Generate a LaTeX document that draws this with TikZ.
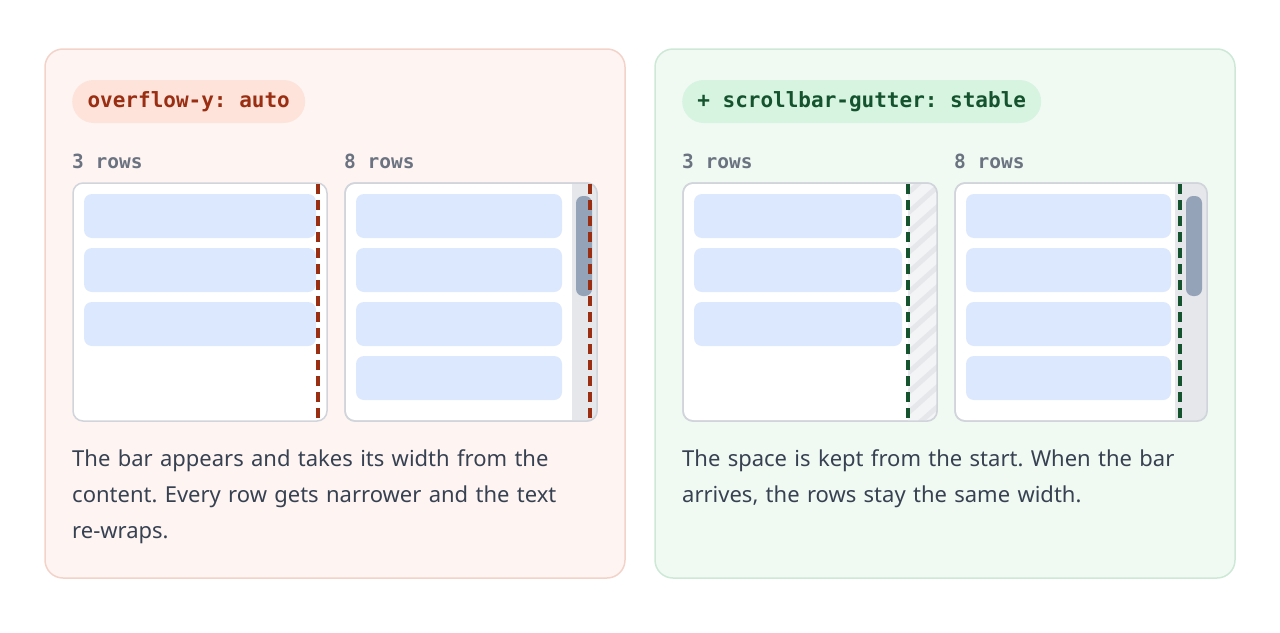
\documentclass[tikz,border=0pt]{standalone}
\usepackage{fontspec}
\setmainfont{Noto Sans}
\setmonofont{DejaVu Sans Mono}
\definecolor{redfill}{HTML}{FEF5F3}
\definecolor{redline}{HTML}{F3D3C9}
\definecolor{redbadge}{HTML}{FDE3DA}
\definecolor{redtext}{HTML}{9A2E12}
\definecolor{grnfill}{HTML}{F0FAF3}
\definecolor{grnline}{HTML}{CDE9D6}
\definecolor{grnbadge}{HTML}{D6F4E0}
\definecolor{grntext}{HTML}{14532D}
\definecolor{rowfill}{HTML}{DBE8FD}
\definecolor{boxline}{HTML}{D1D5DB}
\definecolor{track}{HTML}{E5E7EB}
\definecolor{thumb}{HTML}{94A3B8}
\definecolor{body}{HTML}{374151}
\definecolor{label}{HTML}{6B7280}
\frenchspacing
\hyphenpenalty=10000
\exhyphenpenalty=10000
\begin{document}
\begin{tikzpicture}[x=1pt, y=-1pt,
  panel/.style={rounded corners=18, line width=1.5pt},
  badge/.style={rounded corners=21.5, inner sep=0, anchor=west, minimum height=43, font=\fontsize{21}{21}\selectfont\ttfamily\bfseries},
  rowlbl/.style={anchor=base west, inner sep=0, text=label, font=\fontsize{19.5}{19.5}\selectfont\ttfamily\bfseries},
  box/.style={rounded corners=10, draw=boxline, line width=1.5pt, fill=white},
  row/.style={rounded corners=8, fill=rowfill},
  gap/.style={dashed, dash pattern=on 10pt off 6pt, line width=3.5pt},
  para/.style={anchor=north west, inner sep=0, align=left, text=body, text width=#1, font=\fontsize{22}{36}\selectfont}]
  \useasboundingbox (0,0) rectangle (1280,632);
  % panels
  \draw[panel, draw=redline, fill=redfill] (45,49) rectangle (625,578);
  \draw[panel, draw=grnline, fill=grnfill] (655,49) rectangle (1235,578);
  \node[badge, fill=redbadge, text=redtext, minimum width=233] (autobadge) at (72,101.5) {overflow-y: auto};
  \node[badge, fill=grnbadge, text=grntext, minimum width=359] (stablebadge) at (682,101.5) {+ scrollbar-gutter: stable};
  % row counts
  \node[rowlbl] (lblA) at (72,168) {3 rows};
  \node[rowlbl] (lblB) at (344,168) {8 rows};
  \node[rowlbl] (lblC) at (682,168) {3 rows};
  \node[rowlbl] (lblD) at (954,168) {8 rows};
  % left: auto, 3 rows
  \draw[box] (73,183) rectangle (327,421);
  \foreach \y in {194,248,302} \fill[row] (84,\y) rectangle (316,\y+44);
  \draw[gap, redtext] (318,184) -- (318,421);
  % left: auto, 8 rows
  \draw[box] (345,183) rectangle (597,421);
  \begin{scope}
    \clip[rounded corners=10] (345,183) rectangle (597,421);
    \fill[track] (572,183) rectangle (597,421);
  \end{scope}
  \draw[boxline, line width=1.5pt, rounded corners=10] (345,183) rectangle (597,421);
  \foreach \y in {194,248,302,356} \fill[row] (356,\y) rectangle (562,\y+44);
  \fill[thumb, rounded corners=7] (576,196) rectangle (592,296);
  \draw[gap, redtext] (590,184) -- (590,421);
  % right: stable, 3 rows
  \draw[box] (683,183) rectangle (937,421);
  \begin{scope}
    \clip[rounded corners=10] (683,183) rectangle (937,421);
    \fill[track!45] (908,183) rectangle (937,421);
    \clip (908,183) rectangle (937,421);
    \foreach \y in {160,180,...,440} \draw[track, line width=5pt] (900,\y+40) -- (945,\y);
  \end{scope}
  \draw[boxline, line width=1.5pt, rounded corners=10] (683,183) rectangle (937,421);
  \foreach \y in {194,248,302} \fill[row] (694,\y) rectangle (902,\y+44);
  \draw[gap, grntext] (908,184) -- (908,421);
  % right: stable, 8 rows
  \draw[box] (955,183) rectangle (1207,421);
  \begin{scope}
    \clip[rounded corners=10] (955,183) rectangle (1207,421);
    \fill[track] (1175,183) rectangle (1207,421);
  \end{scope}
  \draw[boxline, line width=1.5pt, rounded corners=10] (955,183) rectangle (1207,421);
  \foreach \y in {194,248,302,356} \fill[row] (966,\y) rectangle (1171,\y+44);
  \fill[thumb, rounded corners=7] (1186,196) rectangle (1202,296);
  \draw[gap, grntext] (1180,184) -- (1180,421);
  % captions
  \node[para=515] (autotext) at (72,449) {The bar appears and takes its width from the content. Every row gets narrower and the text re-wraps.};
  \node[para=515] (stabletext) at (682,449) {The space is kept from the start. When the bar arrives, the rows stay the same width.};
\end{tikzpicture}
\end{document}
